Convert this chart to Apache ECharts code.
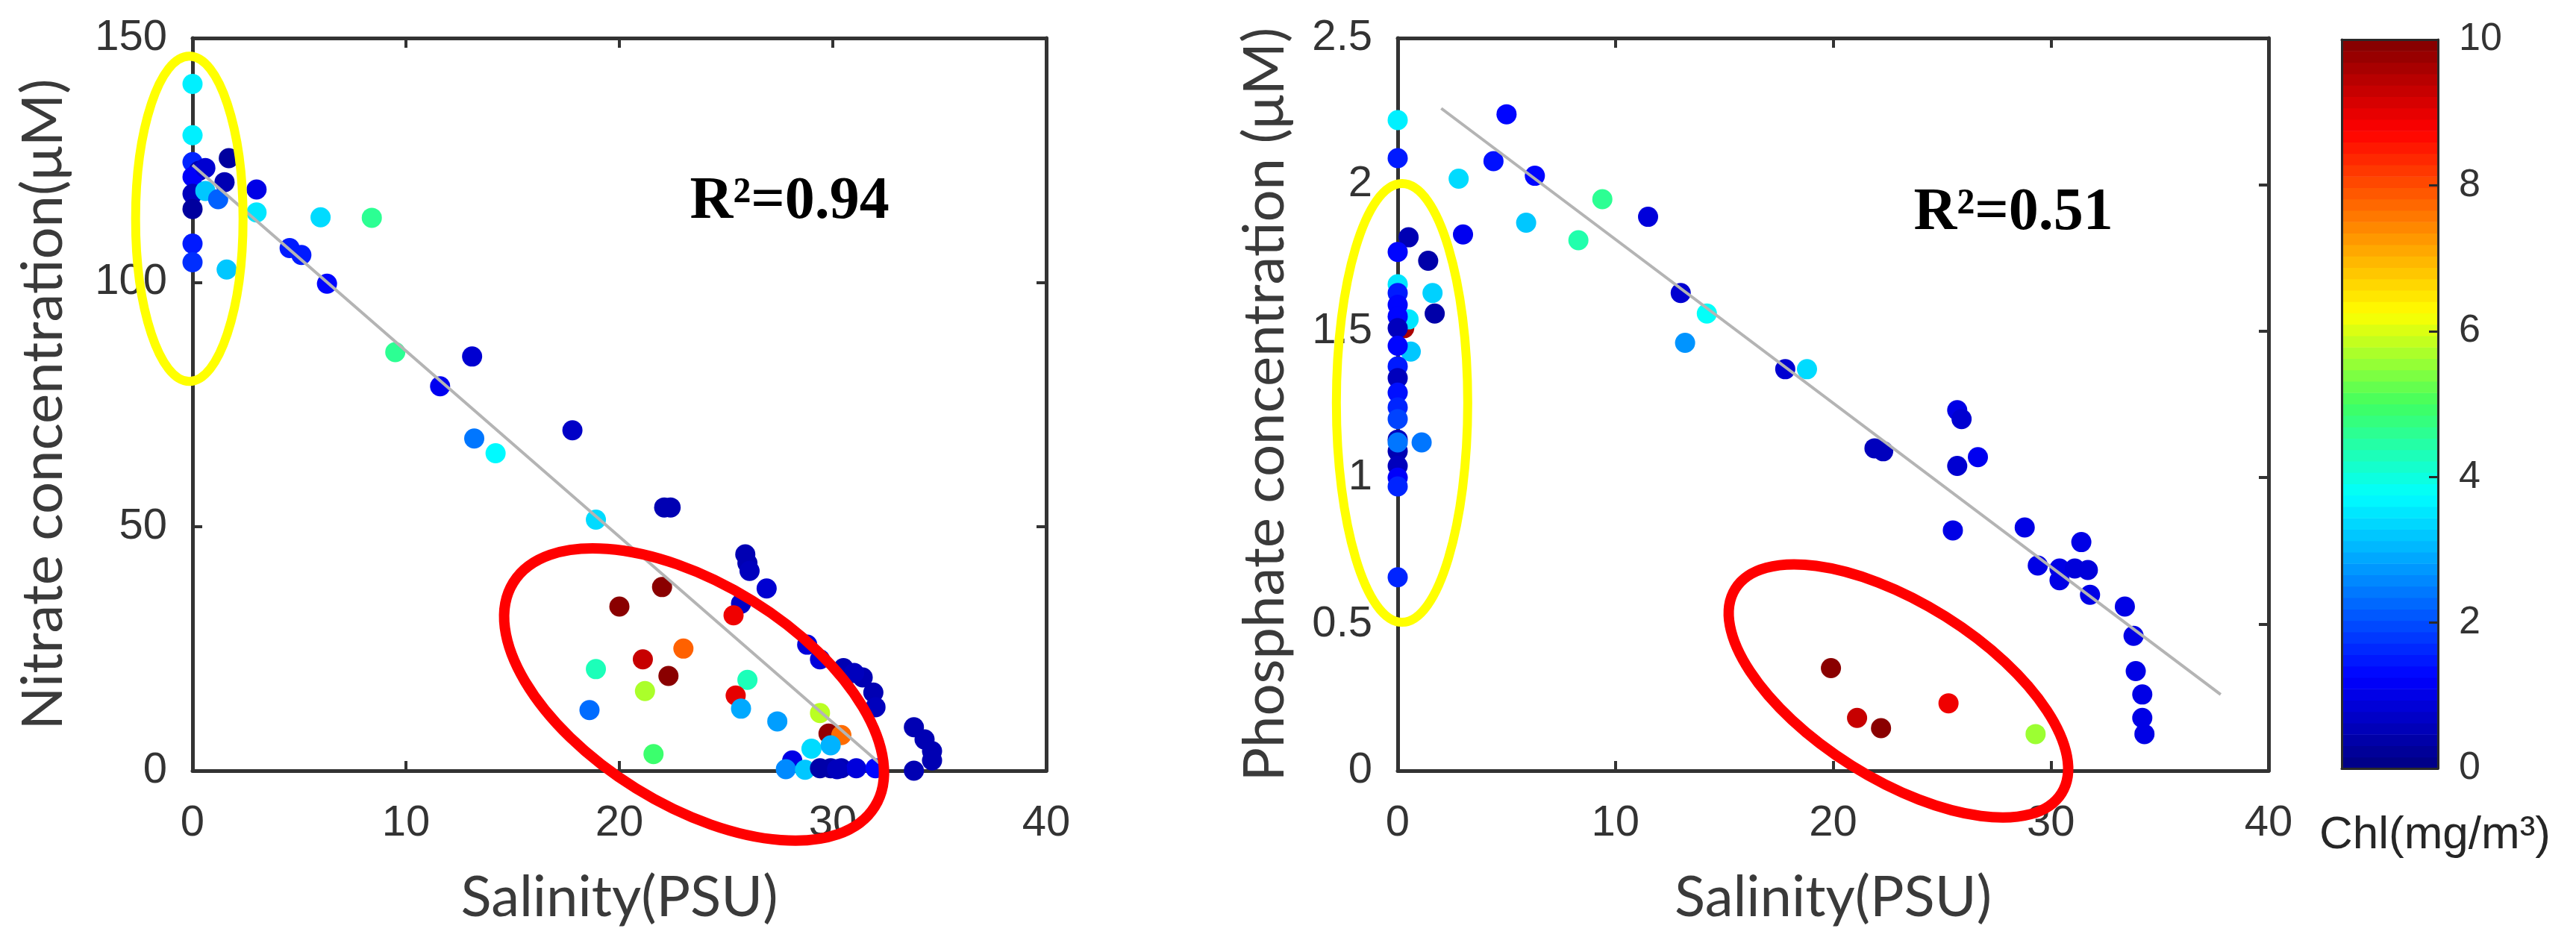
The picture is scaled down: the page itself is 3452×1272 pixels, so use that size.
<!DOCTYPE html>
<html>
<head>
<meta charset="utf-8">
<script src="https://cdn.jsdelivr.net/npm/echarts@6/dist/echarts.min.js"></script>
<style>
html,body{margin:0;padding:0;background:#ffffff;}
#c{width:3452px;height:1272px;}
</style>
</head>
<body>
<div id="c"></div>
<script>
// ---------------- DATA ----------------
// Left panel: nitrate vs salinity, coloured by Chl
const nitrateSal = [0,0,0,1.7,0.3,0,0.6,1.5,0,0.6,
  1.2,0,3.0,3.0,6.0,8.4,0,0,1.6,4.55,
  5.1,6.3,9.5,13.1,11.6,13.2,14.2,17.8,18.9,22.1,
  22.4,25.9,26.0,26.1,26.9,25.7,25.35,22.0,20.0,23.0,
  21.1,22.3,18.9,21.2,18.6,21.6,26.0,25.45,25.7,27.4,
  29.4,29.8,30.4,29.0,29.9,28.1,27.8,28.7,29.4,29.9,
  30.4,31.1,32.0,28.8,29.4,30.5,31.4,31.9,32.0,33.8,
  34.3,34.65,34.65,33.8,31.0,30.2];
const nitrateVal = [140.6,130.1,124.6,125.4,122.8,121.6,123.4,120.5,118.1,118.7,
  117,115,119,114.3,113.3,113.2,107.9,104.1,102.6,107,
  105.6,99.7,85.7,84.8,78.7,68.0,65.0,69.7,51.4,53.9,
  53.9,44.3,42.5,40.9,37.3,34.2,31.8,37.6,33.6,25.0,
  22.8,19.4,20.8,16.3,12.4,3.4,18.6,15.4,12.7,10.1,
  11.8,7.6,7.3,4.5,5.2,2.1,0.3,0.2,0.5,0.5,
  0.5,0.5,0.5,25.8,22.8,21.0,19.1,16.0,13.0,8.9,
  6.4,4.0,2.1,0.0,20.0,0.3];
const nitrateChl = [3.6,3.6,1.6,0.3,0.5,1.2,0.8,0.5,0.6,3.2,
  2.2,0.3,1.0,3.5,3.4,4.6,1.5,1.7,3.2,1.5,
  1.5,1.3,4.6,0.8,1.1,2.4,3.7,0.7,3.4,0.5,
  0.5,0.5,0.5,0.6,0.8,0.7,8.9,9.9,9.9,7.8,
  9.3,9.9,4.3,5.7,2.3,4.9,4.3,9.0,2.9,2.8,
  5.8,9.8,7.7,3.4,3.0,1.0,2.6,3.2,0.4,0.4,
  0.5,0.9,1.3,0.9,0.9,0.5,0.5,0.5,0.6,0.5,
  0.5,0.5,0.5,0.5,0.6,0.6];
const nitrateFitSal = [0, 32.2];
const nitrateFitVal = [124, 1.5];

// Right panel: phosphate vs salinity, coloured by Chl
const phosSal = [0.3,0,0,2.8,5.0,4.4,6.3,9.4,5.9,8.3,
  11.5,0.5,0,3.0,1.4,1.6,1.7,0.5,0.6,0,
  0,0,0,0,0,0,0,0,0,0,
  0,0,0,0,0,0,1.1,13.0,14.2,13.2,
  17.8,18.8,21.9,22.3,25.7,25.9,25.7,26.65,0,25.5,
  28.8,31.4,29.4,30.4,31.1,31.7,30.4,31.8,33.4,33.8,
  33.9,34.2,34.2,34.3,19.9,21.1,22.2,25.3,29.3];
const phosVal = [1.51,2.22,2.09,2.02,2.24,2.08,2.03,1.95,1.87,1.81,
  1.89,1.82,1.77,1.83,1.74,1.63,1.56,1.54,1.43,1.66,
  1.63,1.59,1.55,1.51,1.45,1.38,1.34,1.29,1.24,1.20,
  1.13,1.09,1.04,1.00,0.97,1.12,1.12,1.63,1.56,1.46,
  1.37,1.37,1.10,1.09,1.23,1.20,1.04,1.07,0.66,0.82,
  0.83,0.78,0.70,0.69,0.69,0.685,0.65,0.60,0.56,0.46,
  0.34,0.26,0.18,0.125,0.35,0.18,0.145,0.23,0.125];
const phosChl = [9.6,3.6,1.5,3.4,1.3,1.4,1.3,4.6,3.2,4.4,
  0.9,0.5,1.3,1.1,0.4,3.3,0.4,3.5,3.2,3.5,
  1.5,1.3,1.3,0.6,1.3,1.5,0.6,1.4,1.6,1.9,
  0.6,0.5,0.6,1.2,1.6,2.4,2.4,0.8,3.8,2.7,
  0.8,3.4,0.6,0.6,1.0,0.8,0.8,1.1,1.6,1.0,
  1.0,1.0,1.0,1.0,0.9,0.9,1.0,1.0,1.0,1.0,
  1.0,1.0,1.0,1.0,9.9,9.3,9.9,8.9,5.6];
const phosFitSal = [2.0, 37.8];
const phosFitVal = [2.26, 0.26];

// Axis ranges / ticks
const salinityTicks = [0, 10, 20, 30, 40];
const nitrateTicks = [0, 50, 100, 150];
const phosTicks = [0, 0.5, 1, 1.5, 2, 2.5];
const chlTicks = [0, 2, 4, 6, 8, 10];
const r2Labels = ['R²=0.94', 'R²=0.51'];

// ---------------- STYLE / LAYOUT ----------------
const JET = ['#000080','#0000ff','#0080ff','#00ffff','#40ff60','#ffff00','#ff8000','#ff0000','#800000'];
const AX = '#333333';
const TICKFONT = 'Liberation Sans, Arial, sans-serif';
const TITLEFONT = 'Lato, "Open Sans", sans-serif';
const N_BANDS = 64;

function zip3(a, b, c) { return a.map((v, i) => [v, b[i], c[i]]); }
function zip2(a, b) { return a.map((v, i) => [v, b[i]]); }
function rangeOf(t) { return {min: t[0], max: t[t.length - 1], interval: t[1] - t[0]}; }

// colour bar bands: [lo, hi, mid] in Chl units
const chlR = rangeOf(chlTicks);
const bands = [];
for (let i = 0; i < N_BANDS; i++) {
  const lo = chlR.min + (chlR.max - chlR.min) * i / N_BANDS;
  const hi = chlR.min + (chlR.max - chlR.min) * (i + 1) / N_BANDS;
  bands.push([lo, hi, (lo + hi) / 2]);
}

function xAxisDef(grid, ticks, top, name) {
  const r = rangeOf(ticks);
  return {
    gridIndex: grid, type: 'value', min: r.min, max: r.max, interval: r.interval,
    position: top ? 'top' : 'bottom',
    axisLine: {show: true, onZero: false, lineStyle: {color: AX, width: 5}},
    axisTick: {show: true, inside: true, length: 13, lineStyle: {color: AX, width: 4}},
    axisLabel: {show: !top, fontFamily: TICKFONT, fontSize: 58, color: '#333', margin: 42},
    splitLine: {show: false},
    name: top ? '' : name, nameLocation: 'middle', nameGap: 132,
    nameTextStyle: {fontFamily: TITLEFONT, fontSize: 76, color: '#3a3a3a'}
  };
}
function yAxisDef(grid, ticks, right, name, gap) {
  const r = rangeOf(ticks);
  return {
    gridIndex: grid, type: 'value', min: r.min, max: r.max, interval: r.interval,
    position: right ? 'right' : 'left',
    axisLine: {show: true, onZero: false, lineStyle: {color: AX, width: 5}},
    axisTick: {show: true, inside: true, length: 13, lineStyle: {color: AX, width: 4}},
    axisLabel: {show: !right, fontFamily: TICKFONT, fontSize: 58, color: '#333', margin: 34},
    splitLine: {show: false},
    name: right ? '' : name, nameLocation: 'middle', nameGap: gap, nameRotate: 90,
    nameTextStyle: {fontFamily: TITLEFONT, fontSize: 76, color: '#3a3a3a'}
  };
}

const chart = echarts.init(document.getElementById('c'), null, {renderer: 'canvas'});

const option = {
  backgroundColor: '#ffffff',
  animation: false,
  grid: [
    {left: 258, top: 51, width: 1144, height: 982},
    {left: 1873, top: 51, width: 1167, height: 982},
    {left: 3138, top: 53, width: 129, height: 977}
  ],
  xAxis: [
    xAxisDef(0, salinityTicks, false, 'Salinity(PSU)'),
    xAxisDef(0, salinityTicks, true, ''),
    xAxisDef(1, salinityTicks, false, 'Salinity(PSU)'),
    xAxisDef(1, salinityTicks, true, ''),
    {gridIndex: 2, type: 'value', min: 0, max: 1, position: 'bottom', z: 10,
     axisLine: {show: true, onZero: false, lineStyle: {color: '#2a2a2a', width: 3}},
     axisTick: {show: false}, axisLabel: {show: false}, splitLine: {show: false}},
    {gridIndex: 2, type: 'value', min: 0, max: 1, position: 'top', z: 10,
     axisLine: {show: true, onZero: false, lineStyle: {color: '#2a2a2a', width: 3}},
     axisTick: {show: false}, axisLabel: {show: false}, splitLine: {show: false}}
  ],
  yAxis: [
    yAxisDef(0, nitrateTicks, false, 'Nitrate concentration(μM)', 162),
    yAxisDef(0, nitrateTicks, true, ''),
    yAxisDef(1, phosTicks, false, 'Phosphate concentration (μM)', 140),
    yAxisDef(1, phosTicks, true, ''),
    {gridIndex: 2, type: 'value', min: chlR.min, max: chlR.max, interval: chlR.interval,
     position: 'right', z: 10,
     axisLine: {show: true, onZero: false, lineStyle: {color: '#2a2a2a', width: 3}},
     axisTick: {show: true, inside: true, length: 12, lineStyle: {color: '#2a2a2a', width: 3}},
     axisLabel: {fontFamily: TICKFONT, fontSize: 52, color: '#333', margin: 28},
     splitLine: {show: false}},
    {gridIndex: 2, type: 'value', min: chlR.min, max: chlR.max, interval: chlR.interval,
     position: 'left', z: 10,
     axisLine: {show: true, onZero: false, lineStyle: {color: '#2a2a2a', width: 3}},
     axisTick: {show: false}, axisLabel: {show: false}, splitLine: {show: false}}
  ],
  visualMap: [{
    type: 'continuous', show: false, min: chlR.min, max: chlR.max, dimension: 2,
    seriesIndex: [0, 2, 4], inRange: {color: JET}
  }],
  series: [
    {type: 'scatter', xAxisIndex: 0, yAxisIndex: 0, symbol: 'circle', symbolSize: 27, clip: false, z: 2,
     itemStyle: {opacity: 1}, data: zip3(nitrateSal, nitrateVal, nitrateChl)},
    {type: 'line', xAxisIndex: 0, yAxisIndex: 0, symbol: 'none', z: 3, silent: true,
     lineStyle: {color: '#b4b4b4', width: 4}, data: zip2(nitrateFitSal, nitrateFitVal)},
    {type: 'scatter', xAxisIndex: 2, yAxisIndex: 2, symbol: 'circle', symbolSize: 27, clip: false, z: 2,
     itemStyle: {opacity: 1}, data: zip3(phosSal, phosVal, phosChl)},
    {type: 'line', xAxisIndex: 2, yAxisIndex: 2, symbol: 'none', z: 3, silent: true,
     lineStyle: {color: '#b4b4b4', width: 4}, data: zip2(phosFitSal, phosFitVal)},
    {type: 'custom', xAxisIndex: 4, yAxisIndex: 4, z: 2, silent: true,
     encode: {x: -1, y: [0, 1]},
     renderItem: function (params, api) {
       const p0 = api.coord([0, api.value(0)]);
       const p1 = api.coord([1, api.value(1)]);
       return {type: 'rect',
         shape: {x: p0[0], y: p1[1], width: p1[0] - p0[0], height: p0[1] - p1[1] + 0.6},
         style: {fill: api.visual('color')}};
     },
     data: bands}
  ]
};
chart.setOption(option);

// ---------------- annotations (anchored through the axes) ----------------
const ellipses = [
  {grid: 0, at: [-0.15, 113], rx: 72, ry: 218, rot: 0, color: '#ffff00', w: 12},
  {grid: 0, at: [23.5, 15.6], rx: 285, ry: 148, rot: -0.555, color: '#ff0000', w: 14},
  {grid: 1, at: [0.2, 1.255], rx: 88, ry: 294, rot: 0, color: '#ffff00', w: 12},
  {grid: 1, at: [23.0, 0.272], rx: 258, ry: 118, rot: -0.56, color: '#ff0000', w: 14}
];
const r2Pos = [{grid: 0, at: [23.3, 116.4]}, {grid: 1, at: [23.7, 1.9]}];

const graphics = [];
ellipses.forEach(e => {
  const p = chart.convertToPixel({gridIndex: e.grid}, e.at);
  graphics.push({type: 'ellipse', x: p[0], y: p[1], rotation: e.rot, z: 100,
    shape: {cx: 0, cy: 0, rx: e.rx, ry: e.ry},
    style: {fill: null, stroke: e.color, lineWidth: e.w}});
});
r2Pos.forEach((r, i) => {
  const p = chart.convertToPixel({gridIndex: r.grid}, r.at);
  graphics.push({type: 'text', x: p[0], y: p[1], z: 100,
    style: {text: r2Labels[i], fontFamily: 'Liberation Serif, "Times New Roman", serif',
      fontWeight: 'bold', fontSize: 80, fill: '#000', textAlign: 'left', textVerticalAlign: 'middle'}});
});
graphics.push({type: 'text', x: 3263, y: 1120, z: 100,
  style: {text: 'Chl(mg/m³)', fontFamily: TICKFONT, fontSize: 62, fill: '#262626',
    textAlign: 'center', textVerticalAlign: 'middle'}});
chart.setOption({graphic: graphics});
</script>
</body>
</html>
